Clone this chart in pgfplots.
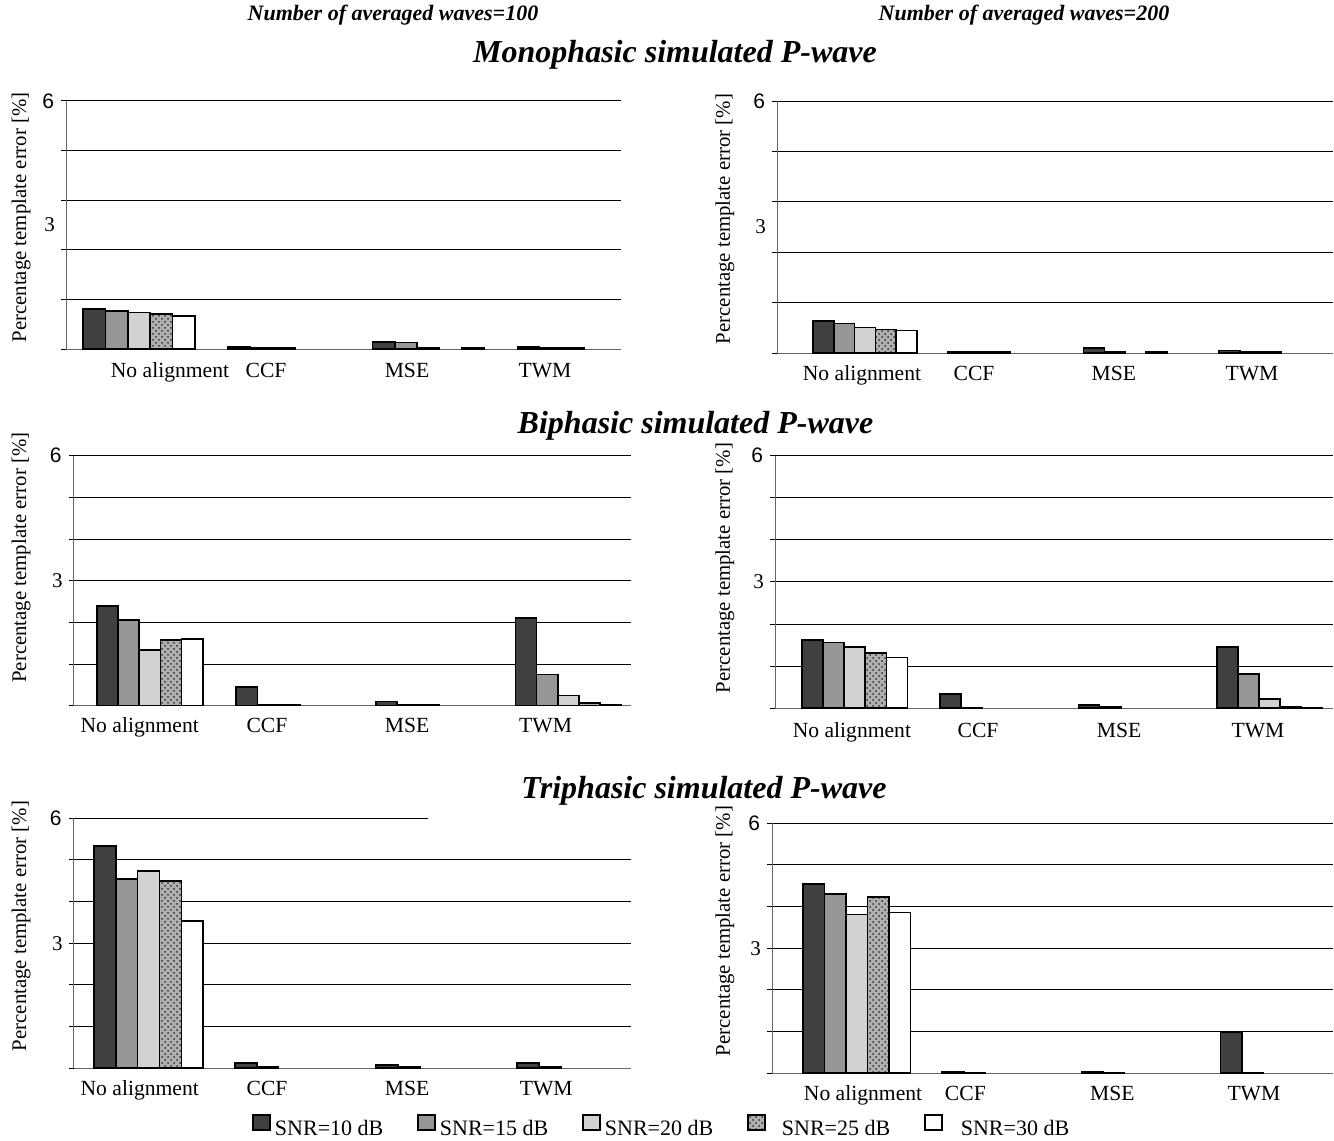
\documentclass[border=0pt]{standalone}
\usepackage{fontspec}
\setmainfont{Liberation Serif}
\setsansfont{Liberation Sans}
\usepackage{pgfplots}
\usepackage{pgfplotstable}
\pgfplotsset{compat=1.18}
\usetikzlibrary{patterns}

\definecolor{c10}{RGB}{64,64,64}
\definecolor{c15}{RGB}{150,150,150}
\definecolor{c20}{RGB}{210,210,210}
\definecolor{c25}{RGB}{175,175,175}

% columns: category index, SNR=10,15,20,25,30 dB (nan = no visible bar)
\pgfplotstableread{
x s10 s15 s20 s25 s30
0 0.97 0.93 0.89 0.85 0.81
1 0.06 0.03 0.03 nan nan
2 0.18 0.16 0.03 nan 0.03
3 0.06 0.04 0.04 nan nan
}\tabTL
\pgfplotstableread{
x s10 s15 s20 s25 s30
0 0.77 0.705 0.61 0.57 0.54
1 0.04 0.03 0.03 nan nan
2 0.12 0.04 nan 0.04 nan
3 0.07 0.04 0.04 nan nan
}\tabTR
\pgfplotstableread{
x s10 s15 s20 s25 s30
0 2.39 2.06 1.34 1.58 1.60
1 0.45 0.02 0.02 nan nan
2 0.10 0.02 0.02 nan nan
3 2.10 0.75 0.24 0.06 0.02
}\tabML
\pgfplotstableread{
x s10 s15 s20 s25 s30
0 1.62 1.56 1.45 1.31 1.21
1 0.34 0.02 nan nan nan
2 0.08 0.03 nan nan nan
3 1.46 0.82 0.22 0.04 0.01
}\tabMR
\pgfplotstableread{
x s10 s15 s20 s25 s30
0 5.34 4.54 4.74 4.50 3.54
1 0.13 0.04 nan nan nan
2 0.08 0.04 nan nan nan
3 0.12 0.04 nan nan nan
}\tabBL
\pgfplotstableread{
x s10 s15 s20 s25 s30
0 4.55 4.30 3.81 4.23 3.86
1 0.04 0.02 nan nan nan
2 0.04 0.02 nan nan nan
3 0.98 0.02 nan nan nan
}\tabBR

\newcommand{\labsix}{{\sffamily\fontsize{10.5}{11}\selectfont 6}}
\newcommand{\labthree}{{\rmfamily\fontsize{10.5}{11}\selectfont 3}}

\pgfplotsset{
  b10/.style={draw=black, line width=0.8pt, fill=c10},
  b15/.style={draw=black, line width=0.8pt, fill=c15},
  b20/.style={draw=black, line width=0.8pt, fill=c20},
  b25/.style={draw=black, line width=0.8pt, fill=c25, postaction={pattern=crosshatch dots, pattern color=black!80}},
  b30/.style={draw=black, line width=0.8pt, fill=white},
  panel/.style={
    scale only axis, anchor=south west,
    ymin=0, ymax=6,
    axis lines*=left,
    axis line style={draw=black!60, line width=0.5pt},
    ybar=0pt,
    ymajorgrids,
    grid style={black, line width=0.5pt},
    xtick align=inside, ytick align=outside,
    major tick length=2.5pt,
    ytick style={black, line width=0.5pt},
    xtick style={draw=none},
    xticklabels={No alignment, CCF, MSE, TWM},
    yticklabels={,,,,,,{\labsix}},
    extra y ticks={3},
    extra y tick labels={{\labthree}},
    extra y tick style={ymajorgrids=false, major tick length=0pt, yticklabel style={xshift=-2pt}},
    ylabel={Percentage template error [\%]},
    ylabel style={font=\fontsize{10.4}{12}\selectfont, anchor=center},
    clip=false,
    unbounded coords=discard,
  },
  toppanel/.style={panel,
    ytick={0,1.2,2.4,3.6,4.8,6},
    yticklabels={,,,,,{\labsix}},
  },
  gridpanel/.style={panel,
    ytick={0,1,2,3,4,5,6},
  },
}

\newcommand{\fivebars}[1]{%
  \addplot[b10] table[x=x,y=s10]{#1};
  \addplot[b15] table[x=x,y=s15]{#1};
  \addplot[b20] table[x=x,y=s20]{#1};
  \addplot[b25] table[x=x,y=s25]{#1};
  \addplot[b30] table[x=x,y=s30]{#1};
}

\begin{document}
\begin{tikzpicture}

% ---------- top left ----------
\begin{axis}[toppanel, at={(33pt,395.85pt)}, width=277.5pt, height=124.15pt,
  xmin=-0.5045, xmax=3.331, bar width=0.154,
  xtick={0.214,0.878,1.852,2.806},
  xticklabel style={font=\fontsize{10.8}{12}\selectfont, anchor=base, yshift=-14.2pt},
  ylabel style={at={(axis description cs:-0.081,0.531)}}]
\fivebars{\tabTL}
\end{axis}

% ---------- top right ----------
\begin{axis}[toppanel, at={(388.5pt,393.85pt)}, width=278pt, height=126.15pt,
  xmin=-0.650, xmax=3.459, bar width=0.1537,
  xtick={-0.022,0.806,1.840,2.860},
  xticklabel style={font=\fontsize{10.8}{12}\selectfont, anchor=base, yshift=-13.4pt},
  ylabel style={at={(axis description cs:-0.0935,0.532)}}]
\fivebars{\tabTR}
\end{axis}

% ---------- middle left ----------
\begin{axis}[gridpanel, at={(36.8pt,217.65pt)}, width=278.7pt, height=125pt,
  xmin=-0.546, xmax=3.449, bar width=0.152,
  xtick={-0.072,0.840,1.844,2.837},
  xticklabel style={font=\fontsize{10.8}{12}\selectfont, anchor=base, yshift=-13.5pt},
  ylabel style={at={(axis description cs:-0.094,0.592)}}]
\fivebars{\tabML}
\end{axis}

% ---------- middle right ----------
\begin{axis}[gridpanel, at={(387.5pt,216.35pt)}, width=279pt, height=126.3pt,
  xmin=-0.576, xmax=3.458, bar width=0.153,
  xtick={-0.020,0.892,1.911,2.916},
  xticklabel style={font=\fontsize{10.8}{12}\selectfont, anchor=base, yshift=-14.7pt},
  ylabel style={at={(axis description cs:-0.09,0.555)}}]
\fivebars{\tabMR}
\end{axis}

% ---------- bottom left ----------
\begin{axis}[gridpanel, at={(36.8pt,36.35pt)}, width=278.7pt, height=125pt,
  xmin=-0.532, xmax=3.421, bar width=0.155,
  xtick={-0.063,0.840,1.833,2.820},
  xticklabel style={font=\fontsize{10.8}{12}\selectfont, anchor=base, yshift=-13.4pt},
  ylabel style={at={(axis description cs:-0.094,0.569)}},
  legend columns=5,
  legend image code/.code={\draw[#1] (0pt,-0.5pt) rectangle (8.5pt,7pt);},
  legend style={at={(axis description cs:0.32,-0.239)}, anchor=west,
    draw=none, fill=none, inner sep=0pt,
    font=\fontsize{11}{12}\selectfont,
    /tikz/every even column/.append style={column sep=15pt}}]
\fivebars{\tabBL}
\legend{SNR=10 dB, SNR=15 dB, SNR=20 dB, \hspace{6pt}SNR=25 dB, \hspace{7pt}SNR=30 dB}
\end{axis}
\fill[white] (214pt,159.8pt) rectangle (318pt,163pt);

% ---------- bottom right ----------
\begin{axis}[gridpanel, at={(386pt,33.85pt)}, width=280.5pt, height=125pt,
  xmin=-0.609, xmax=3.421, bar width=0.1545,
  xtick={0.045,0.780,1.836,2.853},
  xticklabel style={font=\fontsize{10.8}{12}\selectfont, anchor=base, yshift=-13.4pt},
  ylabel style={at={(axis description cs:-0.084,0.569)}}]
\fivebars{\tabBR}
\end{axis}

% ---------- titles ----------
\node[font=\bfseries\itshape\fontsize{11}{13}\selectfont, anchor=base] at (196.5pt,560pt) {Number of averaged waves=100};
\node[font=\bfseries\itshape\fontsize{11}{13}\selectfont, anchor=base] at (512pt,560pt) {Number of averaged waves=200};
\node[font=\bfseries\itshape\fontsize{16}{18}\selectfont, anchor=base] at (337.5pt,539pt) {Monophasic simulated P-wave};
\node[font=\bfseries\itshape\fontsize{16}{18}\selectfont, anchor=base] at (347.75pt,353.85pt) {Biphasic simulated P-wave};
\node[font=\bfseries\itshape\fontsize{16}{18}\selectfont, anchor=base] at (352pt,171.35pt) {Triphasic simulated P-wave};

\pgfresetboundingbox
\path (0pt,0pt) rectangle (667pt,570.5pt);
\end{tikzpicture}
\end{document}
